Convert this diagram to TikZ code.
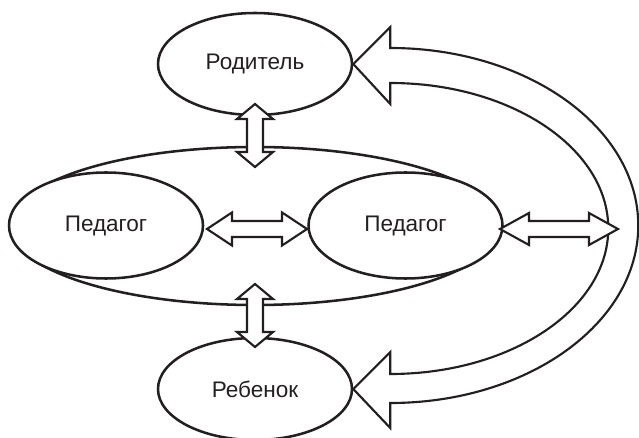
\documentclass[tikz,border=0pt]{standalone}
\usepackage{fontspec}
\setmainfont{Liberation Sans}
\usetikzlibrary{shapes.geometric,calc}
\definecolor{ink}{HTML}{231F20}
\tikzset{
  oval/.style={ellipse, draw=ink, line width=1.9pt, fill=white, inner sep=0pt,
    minimum width=145.5pt, minimum height=76.5pt, text=ink,
    font=\fontsize{16.9}{20}\selectfont},
  blockarr/.style={draw=ink, line width=1.6pt, fill=white, line join=miter},
}
\newcommand\vdblarrow[2]{%
  \draw[blockarr] let \p1=(#1), \p2=(#2) in
    (\x1,\y1) -- (\x1+13.5pt,\y1-11.25pt) -- (\x1+6pt,\y1-11.25pt)
    -- (\x2+6pt,\y2+11.25pt) -- (\x2+13.5pt,\y2+11.25pt) -- (\x2,\y2)
    -- (\x2-13.5pt,\y2+11.25pt) -- (\x2-6pt,\y2+11.25pt)
    -- (\x1-6pt,\y1-11.25pt) -- (\x1-13.5pt,\y1-11.25pt) -- cycle;}
\newcommand\hdblarrow[4]{%
  \draw[blockarr] let \p1=(#1), \p2=(#2) in
    (\x1,\y1) -- (\x1+#3,\y1+#4) -- (\x1+#3,\y1+6pt)
    -- (\x2-#3,\y2+6pt) -- (\x2-#3,\y2+#4) -- (\x2,\y2)
    -- (\x2-#3,\y2-#4) -- (\x2-#3,\y2-6pt)
    -- (\x1+#3,\y1-6pt) -- (\x1+#3,\y1-#4) -- cycle;}
\begin{document}
\begin{tikzpicture}[x=0.75pt, y=-0.75pt]
  \useasboundingbox (0,0) rectangle (639,438);
  % big ellipse (team)
  \node[ellipse, draw=ink, line width=1.9pt, minimum width=367.5pt, minimum height=118.5pt] (team) at (255,226) {};
  % small ellipses
  \node[oval, minimum height=79.5pt] (ped1) at (106,225.5) {Педагог};
  \node[oval, minimum height=79.5pt] (ped2) at (405.5,225.5) {Педагог};
  \node[oval] (par) at (255,64) {Родитель};
  \node[oval] (child) at (255,389) {Ребенок};
  % big curved double arrow
  \draw[blockarr] (par.east) -- ++(37,-37) -- ++(0,21)
    arc[start angle=-90, end angle=90, x radius=248, y radius=177.5]
    -- ++(0,25) -- (child.east) -- ++(37,-37) -- ++(0,22)
    arc[start angle=90, end angle=-90, x radius=218, y radius=145.5]
    -- ++(0,21) -- cycle;
  % straight double arrows
  \coordinate (v1a) at (255,104);
  \coordinate (v1b) at (255,167);
  \coordinate (v2a) at (255,284);
  \coordinate (v2b) at (255,347);
  \coordinate (h1a) at (207,229);
  \coordinate (h1b) at (307,229);
  \coordinate (h2a) at (500,229);
  \coordinate (h2b) at (618,229);
  \vdblarrow{v1a}{v1b}
  \vdblarrow{v2a}{v2b}
  \hdblarrow{h1a}{h1b}{18.75pt}{12.4pt}
  \hdblarrow{h2a}{h2b}{21.75pt}{12pt}
\end{tikzpicture}
\end{document}
